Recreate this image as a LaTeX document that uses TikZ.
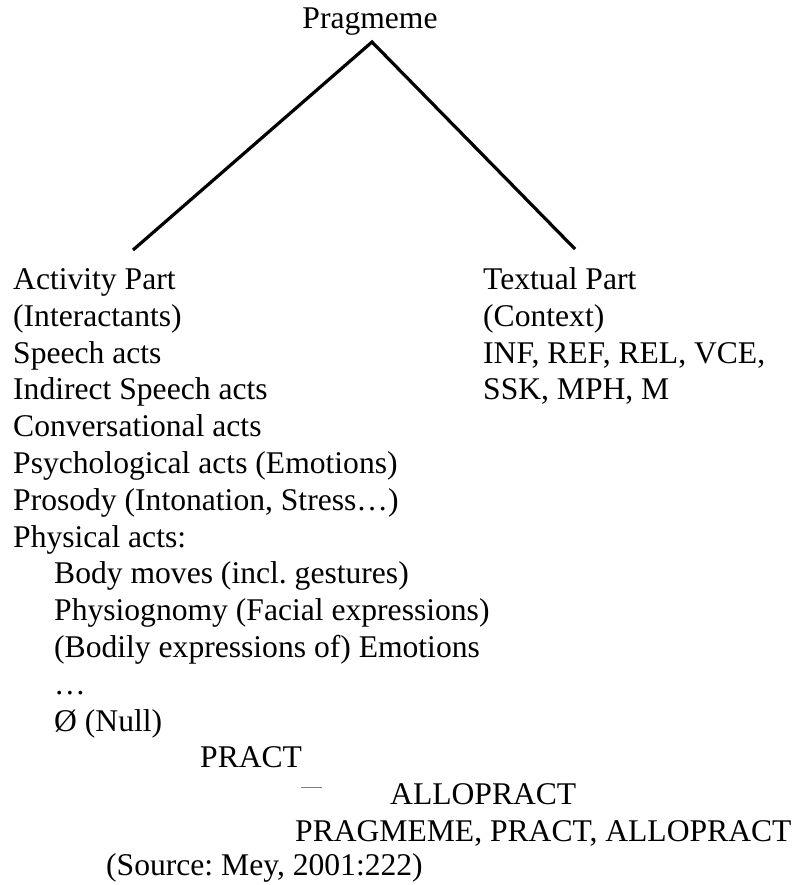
\documentclass[tikz,border=0pt]{standalone}
\usepackage{fontspec}
\setmainfont{Liberation Serif}
\frenchspacing
\begin{document}
\begin{tikzpicture}[x=1pt,y=-1pt,
  txt/.style={anchor=base west,inner sep=0pt,font=\fontsize{31.6}{36}\selectfont},
  branch/.style={line width=3.2pt,line cap=butt,line join=miter}]
\useasboundingbox (0,0) rectangle (798,885);
\node[txt,anchor=base] (top) at (370,29) {Pragmeme};
\coordinate (apex) at (372,42);
\coordinate (lend) at (133,250);
\coordinate (rend) at (575,249);
\draw[branch] (lend) -- (apex) -- (rend);
% left column
\node[txt] (a1) at (13,289.5) {Activity Part};
\node[txt] (a2) at (13,326.3) {(Interactants)};
\node[txt] (a3) at (13,363.1) {Speech acts};
\node[txt] (a4) at (13,399.9) {Indirect Speech acts};
\node[txt] (a5) at (13,436.7) {Conversational acts};
\node[txt] (a6) at (13,473.5) {Psychological acts (Emotions)};
\node[txt] (a7) at (13,510.3) {Prosody (Intonation, Stress…)};
\node[txt] (a8) at (13,547.1) {Physical acts:};
\node[txt] (a9) at (54,583.9) {Body moves (incl. gestures)};
\node[txt] (a10) at (54,620.7) {Physiognomy (Facial expressions)};
\node[txt] (a11) at (54,657.5) {(Bodily expressions of) Emotions};
\node[txt] (a12) at (54,694.3) {…};
\node[txt] (a13) at (54,731.1) {Ø (Null)};
\node[txt] (p1) at (200,767.9) {PRACT};
\node[txt] (p2) at (390,804.7) {ALLOPRACT};
\node[txt] (p3) at (295,841.5) {PRAGMEME, PRACT, ALLOPRACT};
\node[txt] (src) at (106,875) {(Source: Mey, 2001:222)};
\coordinate (tick1) at (301,787);
\coordinate (tick2) at (322,787);
\draw[gray,line width=0.6pt] (tick1) -- (tick2);
% right column
\node[txt] (b1) at (483,289.5) {Textual Part};
\node[txt] (b2) at (483,326.3) {(Context)};
\node[txt] (b3) at (483,363.1) {INF, REF, REL, VCE,};
\node[txt] (b4) at (483,399.9) {SSK, MPH, M};
\end{tikzpicture}
\end{document}
